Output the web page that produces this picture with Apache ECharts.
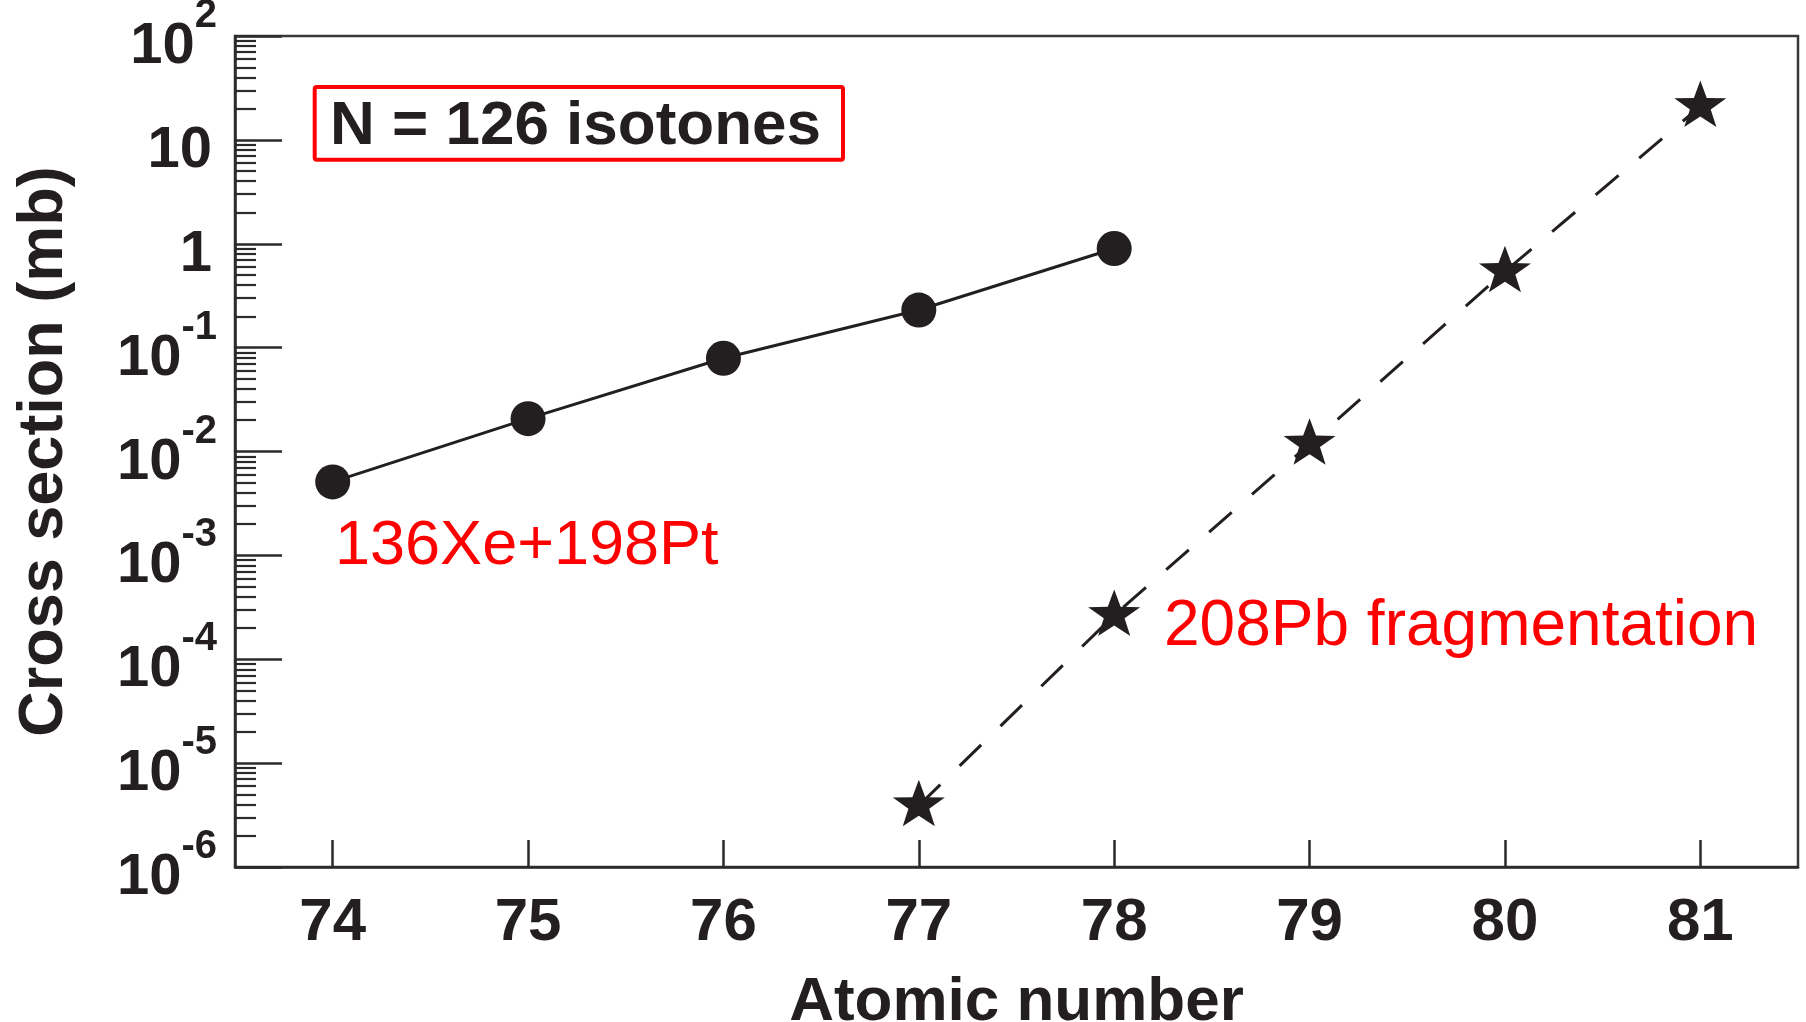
<!DOCTYPE html>
<html>
<head>
<meta charset="utf-8">
<script src="https://cdn.jsdelivr.net/npm/echarts@6/dist/echarts.min.js"></script>
<style>
  html, body { margin: 0; padding: 0; background: #ffffff; }
  #chart { width: 1806px; height: 1022px; }
</style>
</head>
<body>
<div id="chart"></div>
<script>
// N = 126 isotones: production cross sections vs. atomic number
const xTicks = [74, 75, 76, 77, 78, 79, 80, 81];

// 136Xe + 198Pt multinucleon transfer
const xeptZ = [74, 75, 76, 77, 78];
const xeptSigma = [5.1e-3, 0.0207, 0.079, 0.23, 0.9];

// 208Pb projectile fragmentation
const pbZ = [77, 78, 79, 80, 81];
const pbSigma = [3.9e-6, 2.65e-4, 0.0118, 0.54, 21];

// decade labels of the log axis: base and superscript
const yExponents = [-6, -5, -4, -3, -2, -1, 0, 1, 2];
const yTickBase  = ['10', '10', '10', '10', '10', '10', '1', '10', '10'];
const yTickSup   = ['-6', '-5', '-4', '-3', '-2', '-1', '', '', '2'];

const INK = '#231f20';
const RED = '#ff0000';
const FONT = '"Liberation Sans", Arial, Helvetica, sans-serif';

// minor ticks at 2..9 within each decade, expressed as log10 positions
const minorTickLogs = [];
for (let k = -6; k < 2; k++) {
  for (let m = 2; m <= 9; m++) minorTickLogs.push(k + Math.log10(m));
}

// five-pointed star marker
function starPath() {
  let d = '';
  for (let i = 0; i < 10; i++) {
    const r = i % 2 === 0 ? 50 : 20;
    const a = -Math.PI / 2 + i * Math.PI / 5;
    d += (i ? 'L' : 'M') + (50 + r * Math.cos(a)).toFixed(2) + ' ' + (50 + r * Math.sin(a)).toFixed(2);
  }
  return 'path://' + d + 'Z';
}

const chart = echarts.init(document.getElementById('chart'), null, { renderer: 'canvas' });

const option = {
  animation: false,
  backgroundColor: '#ffffff',
  textStyle: { fontFamily: FONT },
  grid: {
    left: 235, right: 8, top: 36, bottom: 155,
    show: true, borderColor: '#3a3a3a', borderWidth: 2.5,
    containLabel: false, outerBoundsMode: 'none'
  },
  xAxis: {
    type: 'value',
    min: 73.5, max: 81.5,
    name: 'Atomic number',
    nameLocation: 'middle',
    nameGap: 105,
    nameTextStyle: { fontFamily: FONT, fontSize: 62, fontWeight: 'bold', color: INK },
    axisLine: { show: true, onZero: false, lineStyle: { color: '#2a2a2a', width: 2.5 } },
    axisTick: { show: true, inside: true, length: 27, customValues: xTicks, lineStyle: { color: '#2a2a2a', width: 2.5 } },
    axisLabel: {
      customValues: xTicks, margin: 26,
      fontFamily: FONT, fontSize: 60, fontWeight: 'bold', color: INK
    },
    splitLine: { show: false }
  },
  yAxis: [
    {
      type: 'log', logBase: 10,
      min: 1e-6, max: 100, interval: 1, splitNumber: 8,
      position: 'left',
      name: 'Cross section (mb)',
      nameLocation: 'middle',
      nameGap: 159,
      nameTextStyle: { fontFamily: FONT, fontSize: 63, fontWeight: 'bold', color: INK },
      axisLine: { show: true, onZero: false, lineStyle: { color: '#2a2a2a', width: 2.5 } },
      axisTick: { show: true, inside: true, length: 47, lineStyle: { color: '#2a2a2a', width: 2.5 } },
      minorTick: { show: false },
      axisLabel: {
        margin: 18,
        formatter: function (v) {
          const e = Math.round(Math.log10(v));
          const i = yExponents.indexOf(e);
          if (i < 0) return '';
          // a thin spacer token sets the line height so the base digits sit below the tick
          return yTickSup[i]
            ? '{z| }{b|' + yTickBase[i] + '}{s|' + yTickSup[i] + '}'
            : '{z| }{p|' + yTickBase[i] + '}';
        },
        rich: {
          z: { fontSize: 1, lineHeight: 80 },
          b: { fontFamily: FONT, fontSize: 58, fontWeight: 'bold', color: INK, lineHeight: 58, verticalAlign: 'bottom' },
          p: { fontFamily: FONT, fontSize: 58, fontWeight: 'bold', color: INK, lineHeight: 58, verticalAlign: 'bottom', padding: [0, 5, 0, 0] },
          s: { fontFamily: FONT, fontSize: 40, fontWeight: 'bold', color: INK, lineHeight: 59, verticalAlign: 'top' }
        }
      },
      splitLine: { show: false }
    },
    {
      // minor ticks of the log axis, on a log10-space scale
      type: 'value',
      min: -6, max: 2,
      position: 'left',
      offset: 0,
      axisLine: { show: false, onZero: false },
      axisLabel: { show: false },
      splitLine: { show: false },
      axisTick: { show: true, inside: true, length: 21, customValues: minorTickLogs, lineStyle: { color: '#2a2a2a', width: 2.2 } }
    }
  ],
  series: [
    {
      name: '136Xe+198Pt',
      type: 'line',
      yAxisIndex: 0,
      data: xeptZ.map((z, i) => [z, xeptSigma[i]]),
      symbol: 'circle',
      symbolSize: 35,
      itemStyle: { color: INK },
      lineStyle: { color: INK, width: 3 },
      z: 3
    },
    {
      name: '208Pb fragmentation',
      type: 'line',
      yAxisIndex: 0,
      data: pbZ.map((z, i) => [z, pbSigma[i]]),
      symbol: starPath(),
      symbolSize: [52, 49],
      symbolKeepAspect: true,
      symbolOffset: [0, -2.6],
      itemStyle: { color: INK },
      lineStyle: { color: INK, width: 3, type: [30, 27] },
      z: 3
    }
  ],
  graphic: [
    {
      type: 'rect',
      shape: { x: 314.7, y: 87, width: 528.3, height: 72.7, r: 2 },
      style: { fill: 'none', stroke: RED, lineWidth: 4 },
      z: 10
    },
    {
      type: 'text',
      x: 330, y: 127,
      style: { text: 'N = 126 isotones', font: 'bold 62px ' + FONT, fill: INK, verticalAlign: 'middle', align: 'left' },
      z: 10
    },
    {
      type: 'text',
      x: 335, y: 547,
      style: { text: '136Xe+198Pt', font: '63px ' + FONT, fill: RED, verticalAlign: 'middle', align: 'left' },
      z: 10
    },
    {
      type: 'text',
      x: 1164, y: 627,
      style: { text: '208Pb fragmentation', font: '64px ' + FONT, fill: RED, verticalAlign: 'middle', align: 'left' },
      z: 10
    }
  ]
};

chart.setOption(option);
</script>
</body>
</html>
